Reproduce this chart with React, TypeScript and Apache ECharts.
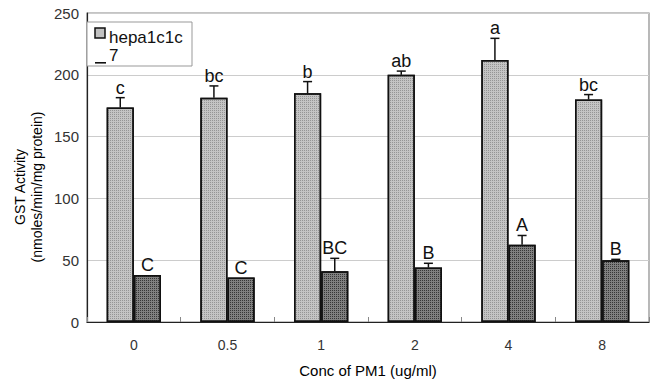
import React, { useEffect, useRef } from "react";
import * as echarts from "echarts";

const categories = ["0", "0.5", "1", "2", "4", "8"];
const hepaValues = [173.5, 181.5, 185, 200, 212, 180];
const hepaErrors = [8, 9.5, 9.5, 3, 17.5, 4];
const hepaLetters = ["c", "bc", "b", "ab", "a", "bc"];
const secondValues = [38, 36, 41, 44, 62.5, 50];
const secondErrors = [0, 0, 10.5, 3.5, 7.5, 0.7];
const secondLetters = ["C", "C", "BC", "B", "A", "B"];
const yTicks = [0, 50, 100, 150, 200, 250];

const BAR_FRAC = 0.29;

function errorSeries(values: number[], errors: number[], letters: string[], side: number) {
  return {
    type: "custom",
    z: 5,
    clip: false,
    data: values.map((v, i) => [i, v, errors[i]]),
    renderItem: (params: any, api: any) => {
      const idx = api.value(0);
      const v = api.value(1);
      const e = api.value(2);
      const base = api.coord([idx, v]);
      const top = api.coord([idx, v + e]);
      const bw = api.size([1, 0])[0] * BAR_FRAC;
      const x = base[0] + (side * bw) / 2;
      const children: any[] = [];
      if (e > 0) {
        children.push({
          type: "line",
          shape: { x1: x, y1: base[1], x2: x, y2: top[1] },
          style: { stroke: "#111", lineWidth: 1.5 },
        });
        children.push({
          type: "line",
          shape: { x1: x - 4.5, y1: top[1], x2: x + 4.5, y2: top[1] },
          style: { stroke: "#111", lineWidth: 1.5 },
        });
      }
      children.push({
        type: "text",
        style: {
          text: letters[params.dataIndex],
          x: x,
          y: top[1] - 1,
          align: "center",
          verticalAlign: "bottom",
          font: "18px Arial, 'Liberation Sans', sans-serif",
          fill: "#111",
        },
      });
      return { type: "group", children };
    },
  };
}

export default function App() {
  const ref = useRef<HTMLDivElement>(null);
  useEffect(() => {
    if (!ref.current) return;
    const chart = echarts.init(ref.current, undefined, { renderer: "svg" });
    const font = "Arial, 'Liberation Sans', sans-serif";
    const lightDecal = {
      symbol: "rect",
      color: "rgba(110,110,110,0.55)",
      backgroundColor: "#dcdcdc",
      dashArrayX: [1, 1],
      dashArrayY: [1, 1],
      symbolSize: 1,
      rotation: 0,
    };
    const darkDecal = {
      symbol: "rect",
      color: "rgba(30,30,30,0.75)",
      backgroundColor: "#b4b4b4",
      dashArrayX: [1, 1],
      dashArrayY: [1, 1],
      symbolSize: 1,
      rotation: 0,
    };
    chart.setOption({
      animation: false,
      grid: {
        left: 87,
        right: 3,
        top: 13,
        bottom: 56,
        show: true,
        borderColor: "#8a8a8a",
        borderWidth: 1.2,
        backgroundColor: "#fff",
      },
      xAxis: {
        type: "category",
        data: categories,
        axisLine: { lineStyle: { color: "#222", width: 1.2 } },
        axisTick: { show: true, inside: true, length: 5, lineStyle: { color: "#888" } },
        axisLabel: { color: "#333", fontSize: 14, fontFamily: font, margin: 16 },
        name: "Conc of PM1 (ug/ml)",
        nameLocation: "middle",
        nameGap: 41,
        nameTextStyle: { color: "#000", fontSize: 15, fontFamily: font },
      },
      yAxis: {
        type: "value",
        min: 0,
        max: 250,
        interval: 50,
        axisLine: { show: true, lineStyle: { color: "#222", width: 1.2 } },
        axisTick: { show: false },
        axisLabel: {
          color: "#333",
          fontSize: 15,
          fontFamily: font,
          margin: 8,
          formatter: (v: number) => (yTicks.includes(v) ? String(v) : ""),
        },
        splitLine: { lineStyle: { color: "#cccccc", width: 1 } },
      },
      series: [
        {
          type: "bar",
          name: "hepa1c1c_7",
          data: hepaValues,
          barWidth: BAR_FRAC * 100 + "%",
          barGap: "0%",
          itemStyle: { color: "#c4c4c4", borderColor: "#111", borderWidth: 1.5, decal: lightDecal },
        },
        {
          type: "bar",
          name: "second",
          data: secondValues,
          barWidth: BAR_FRAC * 100 + "%",
          barGap: "0%",
          itemStyle: { color: "#808080", borderColor: "#111", borderWidth: 1.5, decal: darkDecal },
        },
        errorSeries(hepaValues, hepaErrors, hepaLetters, -1),
        errorSeries(secondValues, secondErrors, secondLetters, 1),
      ],
      graphic: [
        {
          type: "rect",
          shape: { x: 87, y: 22, width: 105, height: 44 },
          style: { fill: "#fff", stroke: "#999", lineWidth: 1 },
          z: 10,
        },
        {
          type: "rect",
          shape: { x: 95, y: 28, width: 10, height: 10 },
          style: { fill: "#c2c2c2", stroke: "#111", lineWidth: 1.5 },
          z: 11,
        },
        {
          type: "text",
          x: 109,
          y: 37,
          style: {
            text: "hepa1c1c",
            font: "17px " + font,
            fill: "#111",
            verticalAlign: "middle",
          },
          z: 11,
        },
        {
          type: "rect",
          shape: { x: 95, y: 62, width: 11, height: 1.6 },
          style: { fill: "#111" },
          z: 11,
        },
        {
          type: "text",
          x: 109,
          y: 55,
          style: {
            text: "7",
            font: "17px " + font,
            fill: "#111",
            verticalAlign: "middle",
          },
          z: 11,
        },
        {
          type: "text",
          x: 20,
          y: 187,
          rotation: Math.PI / 2,
          style: {
            text: "GST Activity",
            font: "14px " + font,
            fill: "#000",
            align: "center",
            verticalAlign: "middle",
          },
        },
        {
          type: "text",
          x: 37,
          y: 187,
          rotation: Math.PI / 2,
          style: {
            text: "(nmoles/min/mg protein)",
            font: "14px " + font,
            fill: "#000",
            align: "center",
            verticalAlign: "middle",
          },
        },
      ],
    });
    return () => chart.dispose();
  }, []);
  return <div ref={ref} style={{ width: 652, height: 383, position: "absolute", left: 0, top: 0 }} />;
}
